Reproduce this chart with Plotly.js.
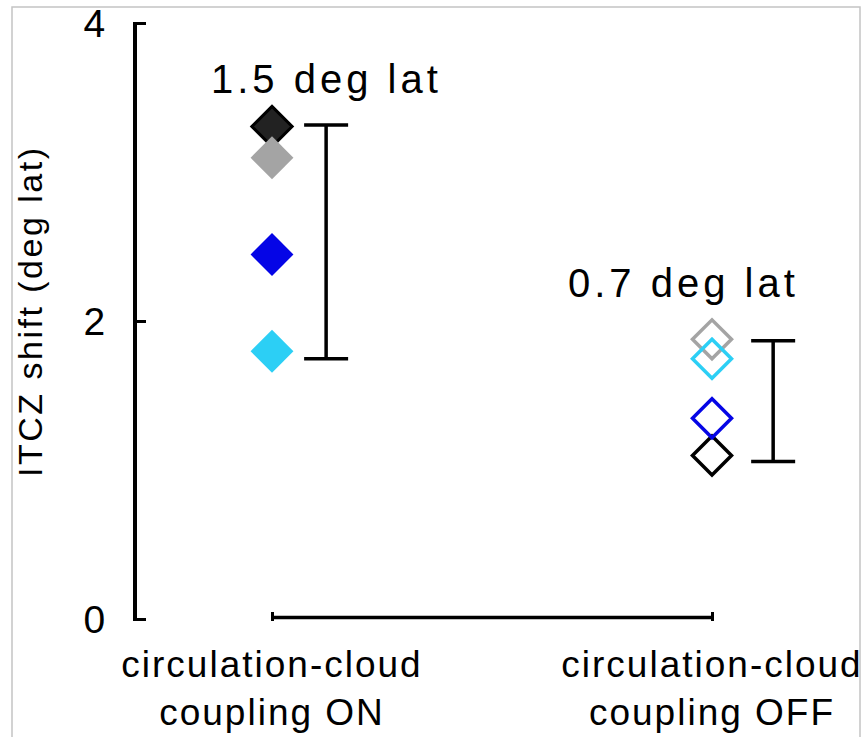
<!DOCTYPE html>
<html><head><meta charset="utf-8">
<script src="https://cdn.plot.ly/plotly-3.0.1.min.js"></script>
<style>
html,body{margin:0;padding:0;background:#fff;}
#chart{width:865px;height:737px;}
#chart svg text{letter-spacing:2px;}
#chart svg .annotation[data-index="0"] .annotation-text,
#chart svg .annotation[data-index="1"] .annotation-text{letter-spacing:4px;}
#chart svg .annotation[data-index="2"] .annotation-text{letter-spacing:2.5px;}
</style></head><body><div id="chart"></div>
<script>
// ---- data ----
const categories = ['circulation-cloud<br>coupling ON', 'circulation-cloud<br>coupling OFF'];
const seriesColors = ['#1e1e1e', '#a4a4a4', '#0505e6', '#2ccff5'];
const couplingOn = [3.31, 3.10, 2.45, 1.80];
const couplingOff = [1.10, 1.88, 1.35, 1.75];
const spreadLow = [1.75, 1.06];
const spreadHigh = [3.32, 1.87];
const spreadLabels = ['1.5 deg lat', '0.7 deg lat'];
const yTicks = [0, 2, 4];
const yTitle = 'ITCZ shift (deg lat)';

// ---- layout constants ----
const W = 865, H = 737;
const FONT = 'Liberation Sans, Arial, sans-serif';
const catPos = categories.map((c, i) => i);
const barOffset = [0.123, 0.139];
const labelX = [0.123, 0.936];
const labelY = [3.47, 2.10];
const pxPerUnit = 440, x0px = 272;
const xRange = [-x0px / pxPerUnit, (W - x0px) / pxPerUnit];
const yRange = [-0.012, 4.012];
const mT = 22, mB = 116;
const plotH = H - mT - mB;
const yPaper = py => (H - mB - py) / plotH;

const traces = [];
seriesColors.forEach((col, i) => {
  const isBlack = i === 0;
  traces.push({
    x: catPos,
    y: [couplingOn[i], couplingOff[i]],
    type: 'scatter', mode: 'markers', cliponaxis: false, showlegend: false,
    hoverinfo: 'skip',
    marker: {
      symbol: ['diamond', 'diamond-open'],
      size: [isBlack ? 31 : 33, 30],
      opacity: 1,
      color: isBlack ? ['#222222', '#000000'] : col,
      line: {color: '#000000', width: [isBlack ? 3 : 0, 3.5]}
    }
  });
});
traces.push({
  x: catPos.map((p, i) => p + barOffset[i]),
  y: spreadLow,
  type: 'scatter', mode: 'markers', showlegend: false, hoverinfo: 'skip',
  marker: {size: 1, color: 'rgba(0,0,0,0)'},
  error_y: {
    type: 'data', symmetric: false,
    array: spreadHigh.map((h, i) => h - spreadLow[i]),
    arrayminus: spreadLow.map(() => 0),
    width: 22, thickness: 3.5, color: '#000'
  }
});

const annotations = spreadLabels.map((t, i) => ({
  text: t, x: labelX[i], y: labelY[i], xref: 'x', yref: 'y',
  xanchor: 'center', yanchor: 'bottom', showarrow: false,
  font: {family: FONT, size: 40, color: '#000'}
}));
annotations.push({
  text: yTitle, textangle: -90, xref: 'paper', yref: 'paper',
  x: 30 / W, y: yPaper(311), xanchor: 'center', yanchor: 'middle', showarrow: false,
  font: {family: FONT, size: 34, color: '#000'}
});

const layout = {
  width: W, height: H,
  margin: {l: 0, r: 0, t: mT, b: mB, pad: 0},
  paper_bgcolor: '#fff', plot_bgcolor: 'rgba(0,0,0,0)',
  font: {family: FONT, color: '#000'},
  xaxis: {
    range: xRange, showgrid: false, zeroline: false, showline: false,
    tickmode: 'array', tickvals: catPos, ticktext: categories,
    ticks: 'inside', ticklen: 9, tickwidth: 3, tickcolor: '#000',
    tickfont: {family: FONT, size: 37, color: '#000'},
    ticklabelstandoff: 18
  },
  yaxis: {
    range: yRange, anchor: 'free', position: 134 / W,
    showgrid: false, zeroline: false, showline: true, linewidth: 3.5, linecolor: '#000',
    tickmode: 'array', tickvals: yTicks, ticktext: yTicks.map(String),
    ticks: 'inside', ticklen: 9, tickwidth: 3, tickcolor: '#000',
    tickfont: {family: FONT, size: 39, color: '#000'},
    ticklabelstandoff: 18
  },
  shapes: [
    {type: 'line', xref: 'x', yref: 'y', x0: catPos[0], x1: catPos[1], y0: 0.012, y1: 0.012,
     line: {color: '#000', width: 3.5}},
    {type: 'rect', xref: 'paper', yref: 'paper', x0: 12 / W, x1: 860 / W, y0: -0.3, y1: yPaper(7),
     line: {color: '#c4c4c4', width: 1.5}, fillcolor: 'rgba(0,0,0,0)'}
  ],
  annotations: annotations
};

Plotly.newPlot('chart', traces, layout, {displayModeBar: false, staticPlot: true});
</script></body></html>
